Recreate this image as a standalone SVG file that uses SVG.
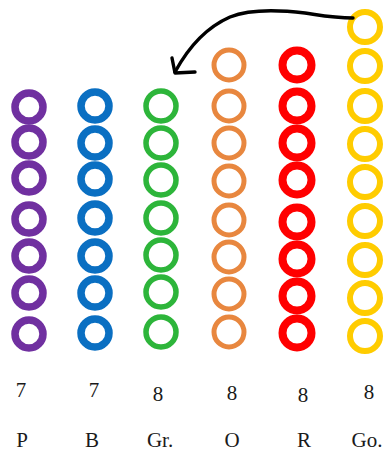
<svg xmlns="http://www.w3.org/2000/svg" width="389" height="452" viewBox="0 0 389 452">
<style>
.ring{fill:none}
.p{stroke:#7030A0;stroke-width:7.5}
.b{stroke:#0A6FC2;stroke-width:7.5}
.g{stroke:#2DB53A;stroke-width:5.5}
.o{stroke:#E8873F;stroke-width:5}
.r{stroke:#FF0000;stroke-width:8}
.y{stroke:#FFCC00;stroke-width:6}
.lbl{font-family:"Liberation Serif","DejaVu Serif",serif;font-size:21px;fill:#1a1a1a;text-anchor:middle}
.arrow{fill:none;stroke:#000;stroke-width:3.4;stroke-linecap:round;stroke-linejoin:round}
</style>
<rect width="389" height="452" fill="#fff"/>
<g id="purple">
<circle class="ring p" cx="29" cy="107" r="14"/>
<circle class="ring p" cx="29" cy="142" r="14"/>
<circle class="ring p" cx="29" cy="178" r="14"/>
<circle class="ring p" cx="29" cy="219" r="14"/>
<circle class="ring p" cx="29" cy="256" r="14"/>
<circle class="ring p" cx="29" cy="293" r="14"/>
<circle class="ring p" cx="29" cy="334" r="14"/>
</g>
<g id="blue">
<circle class="ring b" cx="95" cy="106" r="14"/>
<circle class="ring b" cx="95" cy="143" r="14"/>
<circle class="ring b" cx="95" cy="179" r="14"/>
<circle class="ring b" cx="95" cy="218" r="14"/>
<circle class="ring b" cx="95" cy="256" r="14"/>
<circle class="ring b" cx="95" cy="293" r="14"/>
<circle class="ring b" cx="95" cy="333" r="14"/>
</g>
<g id="green">
<circle class="ring g" cx="161" cy="106" r="15"/>
<circle class="ring g" cx="161" cy="143" r="15"/>
<circle class="ring g" cx="161" cy="180" r="15"/>
<circle class="ring g" cx="161" cy="218" r="15"/>
<circle class="ring g" cx="161" cy="255" r="15"/>
<circle class="ring g" cx="161" cy="292" r="15"/>
<circle class="ring g" cx="161" cy="332" r="15"/>
</g>
<g id="orange">
<circle class="ring o" cx="229" cy="65" r="15"/>
<circle class="ring o" cx="229" cy="106" r="15"/>
<circle class="ring o" cx="229" cy="143" r="15"/>
<circle class="ring o" cx="229" cy="181" r="15"/>
<circle class="ring o" cx="229" cy="220" r="15"/>
<circle class="ring o" cx="229" cy="257" r="15"/>
<circle class="ring o" cx="229" cy="294" r="15"/>
<circle class="ring o" cx="229" cy="332" r="15"/>
</g>
<g id="red">
<circle class="ring r" cx="297" cy="65" r="14.5"/>
<circle class="ring r" cx="297" cy="106" r="14.5"/>
<circle class="ring r" cx="297" cy="143" r="14.5"/>
<circle class="ring r" cx="297" cy="180" r="14.5"/>
<circle class="ring r" cx="297" cy="222" r="14.5"/>
<circle class="ring r" cx="297" cy="259" r="14.5"/>
<circle class="ring r" cx="297" cy="296" r="14.5"/>
<circle class="ring r" cx="297" cy="333" r="14.5"/>
</g>
<g id="gold">
<circle class="ring y" cx="365" cy="27" r="15"/>
<circle class="ring y" cx="365" cy="66" r="15"/>
<circle class="ring y" cx="365" cy="106" r="15"/>
<circle class="ring y" cx="365" cy="144" r="15"/>
<circle class="ring y" cx="365" cy="182" r="15"/>
<circle class="ring y" cx="365" cy="221" r="15"/>
<circle class="ring y" cx="365" cy="260" r="15"/>
<circle class="ring y" cx="365" cy="298" r="15"/>
<circle class="ring y" cx="365" cy="336" r="15"/>
</g>
<g id="connectors">
<path class="arrow" d="M353,18 C335,18 325,16 305,13 C280,10 250,9 230,17 C205,28 188,48 175,72"/>
<path class="arrow" d="M172,58 L175,73 L195,72"/>
</g>
<g id="labels">
<text class="lbl" x="21" y="397">7</text>
<text class="lbl" x="94" y="397">7</text>
<text class="lbl" x="158" y="401">8</text>
<text class="lbl" x="232" y="400">8</text>
<text class="lbl" x="303" y="402">8</text>
<text class="lbl" x="369" y="399">8</text>
<text class="lbl" x="22" y="447">P</text>
<text class="lbl" x="92" y="447">B</text>
<text class="lbl" x="160" y="447">Gr.</text>
<text class="lbl" x="232" y="447">O</text>
<text class="lbl" x="304" y="447">R</text>
<text class="lbl" x="367" y="447">Go.</text>
</g>
</svg>
